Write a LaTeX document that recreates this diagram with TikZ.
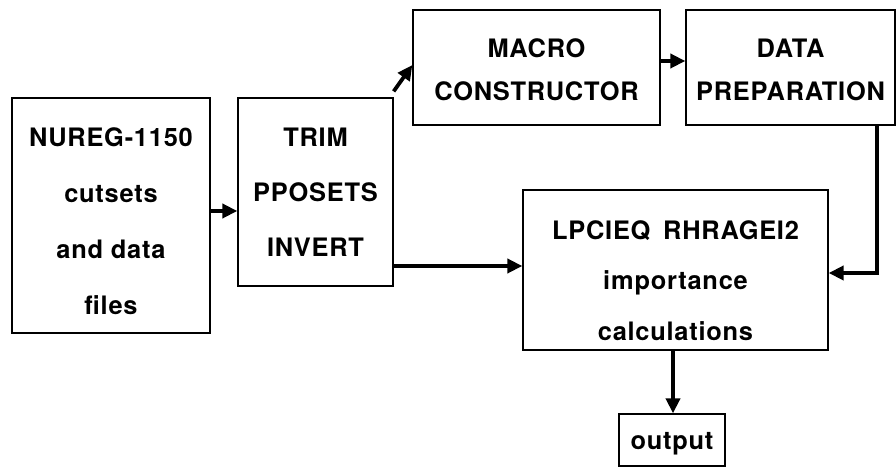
\documentclass[tikz,border=0pt]{standalone}
\usepackage{fontspec}
\setmainfont{TeX Gyre Heros}[LetterSpace=3]
\usetikzlibrary{arrows.meta}
\begin{document}
\begin{tikzpicture}[x=1bp,y=-1bp,
  box/.style={draw,line width=1.3bp,rectangle,inner sep=0pt,align=center,
    font=\bfseries\fontsize{25.5}{#1}\selectfont},
  box/.default=50,
  flow/.style={line width=3.8bp,-{Triangle[length=15bp,width=14bp]}}]
\useasboundingbox (0,0) rectangle (896,467);

% a tall strut on the first line pushes the text block a little down
\node[box=56,minimum width=198bp,minimum height=235bp] (nureg) at (111,215.5)
  {\rule{0pt}{30bp}NUREG-1150\\cutsets\\and data\\files};
\node[box=55,minimum width=155bp,minimum height=188bp] (trim) at (315.5,192)
  {TRIM\\PPOSETS\\INVERT};
\node[box=43,minimum width=247bp,minimum height=115bp] (macro) at (536.5,67.5)
  {\rule{0pt}{24bp}MACRO\\CONSTRUCTOR};
\node[box=43,minimum width=209bp,minimum height=115bp] (data) at (790.5,67.5)
  {\rule{0pt}{24bp}DATA\\PREPARATION};
\node[box=51,minimum width=305bp,minimum height=160bp] (lp) at (675.5,270)
  {\rule{0pt}{40bp}LPCIEQ\enspace RHRAGEI2\\importance\\calculations};
\node[box,minimum width=106bp,minimum height=52bp] (out) at (672,440)
  {\rule{0pt}{24bp}output};

\draw[flow] (nureg.east |- 0,211) -- (trim.west |- 0,211);
\draw[flow] ([yshift=6bp]trim.north east) -- ([yshift=2.5bp]macro.west);
\draw[flow] (macro.east |- 0,61) -- (data.west |- 0,61);
\draw[flow] (trim.east |- 0,266) -- (lp.west |- 0,266);
\draw[flow] (data.south -| 877,0) |- (lp.east |- 0,273);
\draw[flow] (lp.south -| 673,0) -- (out.north -| 673,0);
\end{tikzpicture}
\end{document}
